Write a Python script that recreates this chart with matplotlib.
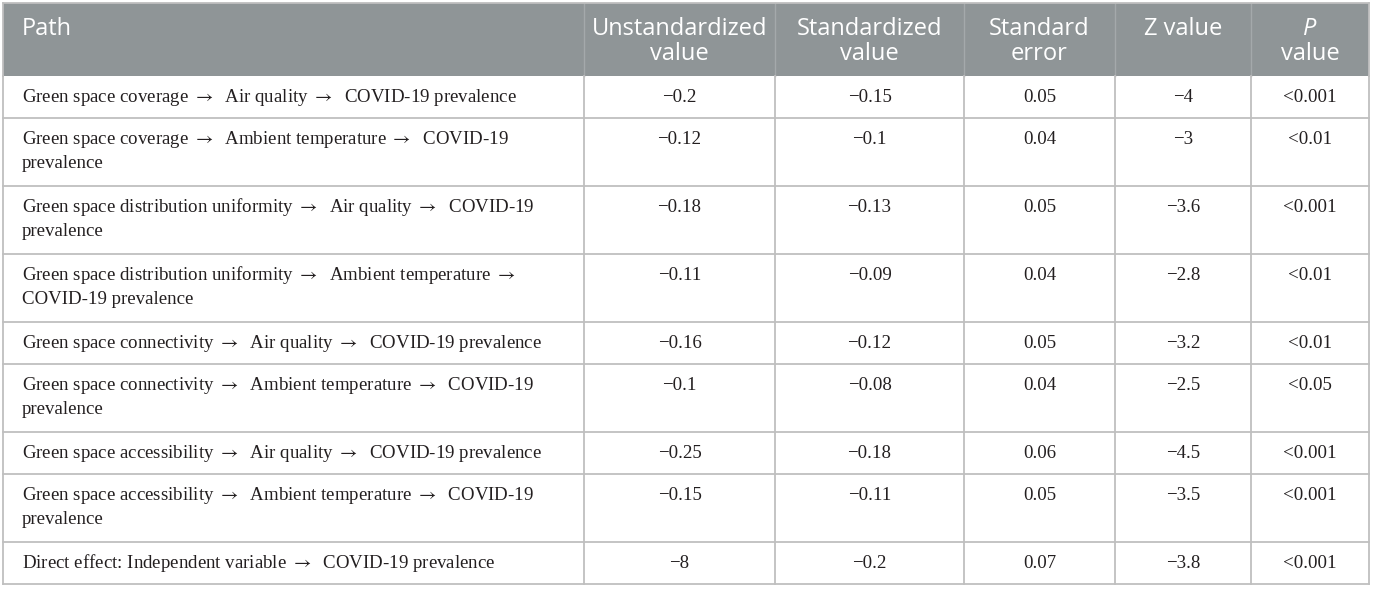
import matplotlib
matplotlib.use("Agg")
import matplotlib.pyplot as plt
from matplotlib.patches import Rectangle

# table content
paths = [
    "Green space coverage \u2192  Air quality \u2192  COVID-19 prevalence",
    "Green space coverage \u2192  Ambient temperature \u2192  COVID-19\nprevalence",
    "Green space distribution uniformity \u2192  Air quality \u2192  COVID-19\nprevalence",
    "Green space distribution uniformity \u2192  Ambient temperature \u2192\nCOVID-19 prevalence",
    "Green space connectivity \u2192  Air quality \u2192  COVID-19 prevalence",
    "Green space connectivity \u2192  Ambient temperature \u2192  COVID-19\nprevalence",
    "Green space accessibility \u2192  Air quality \u2192  COVID-19 prevalence",
    "Green space accessibility \u2192  Ambient temperature \u2192  COVID-19\nprevalence",
    "Direct effect: Independent variable \u2192  COVID-19 prevalence",
]
unstd = ["\u22120.2", "\u22120.12", "\u22120.18", "\u22120.11", "\u22120.16",
         "\u22120.1", "\u22120.25", "\u22120.15", "\u22128"]
std = ["\u22120.15", "\u22120.1", "\u22120.13", "\u22120.09", "\u22120.12",
       "\u22120.08", "\u22120.18", "\u22120.11", "\u22120.2"]
se = ["0.05", "0.04", "0.05", "0.04", "0.05", "0.04", "0.06", "0.05", "0.07"]
zval = ["\u22124", "\u22123", "\u22123.6", "\u22122.8", "\u22123.2",
        "\u22122.5", "\u22124.5", "\u22123.5", "\u22123.8"]
pval = ["<0.001", "<0.01", "<0.001", "<0.01", "<0.01", "<0.05",
        "<0.001", "<0.001", "<0.001"]
headers = ["Path", "Unstandardized\nvalue", "Standardized\nvalue",
           "Standard\nerror", "Z value", "P\nvalue"]

plt.rcParams["mathtext.fontset"] = "stix"

# layout in pixels
W, H = 1375, 591
col_edges = [3, 584, 775, 964, 1115, 1251, 1369]
top = 3
header_h = 73
line1_off = 21
line_step = 24
row_h = {1: 42, 2: 68}

header_bg = "#8f9597"
grid = "#bfbfbf"
txt = "#231f20"

fig = plt.figure(figsize=(W / 100, H / 100), dpi=100)
ax = fig.add_axes([0, 0, 1, 1])
ax.set_xlim(0, W)
ax.set_ylim(H, 0)
ax.axis("off")

# header band
ax.add_patch(Rectangle((col_edges[0], top), col_edges[-1] - col_edges[0], header_h,
                       facecolor=header_bg, edgecolor="none"))
for x in col_edges[1:-1]:
    ax.plot([x, x], [top, top + header_h], color="#a4a9ab", lw=1)

hfont = dict(family="Open Sans", fontsize=17, color="white")
for i, h in enumerate(headers):
    lines = h.split("\n")
    for j, ln in enumerate(lines):
        y = top + 26 + j * 25
        if i == 0:
            ax.text(col_edges[0] + 19, y, ln, ha="left", va="center", **hfont)
        else:
            cx = (col_edges[i] + col_edges[i + 1]) / 2
            style = "italic" if (i == 5 and j == 0) else "normal"
            ax.text(cx, y, ln, ha="center", va="center", style=style, **hfont)

# body rows
bfont = dict(family="Liberation Serif", fontsize=13.6, color=txt)
y0 = top + header_h
row_tops = []
for r in range(len(paths)):
    n = paths[r].count("\n") + 1
    h = row_h[n]
    row_tops.append(y0)
    for j, ln in enumerate(paths[r].split("\n")):
        ln = ln.replace("\u2192", r"$\rightarrow$")
        ax.text(col_edges[0] + 19, y0 + line1_off + j * line_step, ln,
                ha="left", va="center", **bfont)
    for c, col in enumerate([unstd, std, se, zval, pval]):
        cx = (col_edges[c + 1] + col_edges[c + 2]) / 2
        ax.text(cx, y0 + line1_off, col[r], ha="center", va="center", **bfont)
    y0 += h
bottom = y0

# grid lines
for yt in row_tops[1:]:
    ax.plot([col_edges[0], col_edges[-1]], [yt, yt], color=grid, lw=1.3)
ax.plot([col_edges[0], col_edges[-1]], [bottom, bottom], color=grid, lw=1.3)
for x in col_edges:
    ax.plot([x, x], [top + header_h, bottom], color=grid, lw=1.3)
ax.plot([col_edges[0], col_edges[0]], [top, top + header_h], color=grid, lw=1.3)
ax.plot([col_edges[-1], col_edges[-1]], [top, top + header_h], color=grid, lw=1.3)
ax.plot([col_edges[0], col_edges[-1]], [top, top], color=grid, lw=1.3)

fig.savefig("out.png", dpi=100)
